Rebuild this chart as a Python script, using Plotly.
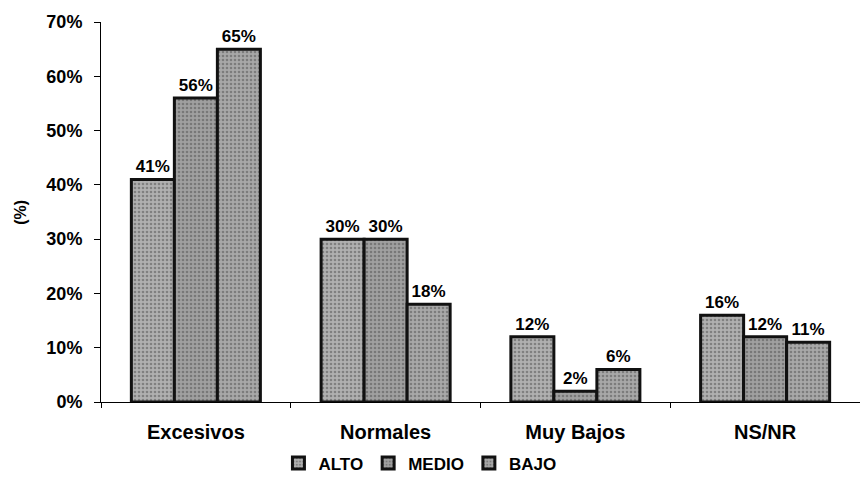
import plotly.graph_objects as go

categories = ["Excesivos", "Normales", "Muy Bajos", "NS/NR"]
alto = [41, 30, 12, 16]
medio = [56, 30, 2, 12]
bajo = [65, 18, 6, 11]
y_ticks = [0, 10, 20, 30, 40, 50, 60, 70]

font = "Liberation Sans, Arial, sans-serif"
series = [("ALTO", alto, "#b0b0b0"), ("MEDIO", medio, "#a0a0a0"), ("BAJO", bajo, "#a8a8a8")]

fig = go.Figure()
for name, vals, col in series:
    fig.add_trace(go.Bar(
        x=categories, y=vals, name=name,
        text=[f"{v}%" for v in vals], textposition="outside",
        texttemplate="%{text}",
        textfont=dict(family=font, size=17, color="black", weight="bold"),
        cliponaxis=False,
        marker=dict(color=col, line=dict(color="#111111", width=3),
                    pattern=dict(shape=".", fgcolor="#505050", bgcolor=col, size=4, solidity=0.35)),
    ))

fig.update_layout(
    width=860, height=469,
    margin=dict(l=93, r=8, t=14, b=75, autoexpand=False),
    paper_bgcolor="white", plot_bgcolor="white",
    barmode="group", bargap=0.32, bargroupgap=0,
    font=dict(family=font, size=15, color="black"),
    showlegend=True,
    legend=dict(orientation="h", xref="container", x=0.479, xanchor="center",
                y=-0.162, yanchor="middle",
                font=dict(family=font, size=17, color="black", weight="bold"),
                itemwidth=30, tracegroupgap=0),
    yaxis=dict(range=[0, 70], tickvals=y_ticks, ticktext=[f"{v}%" for v in y_ticks],
               showgrid=False, zeroline=False, showline=True, linecolor="black", linewidth=1,
               ticks="outside", ticklen=6, tickcolor="black", ticklabelstandoff=8,
               tickfont=dict(family=font, size=18, color="black", weight="bold")),
    xaxis=dict(showline=True, linecolor="black", linewidth=1, ticks="outside", tickson="boundaries",
               ticklen=5, tickcolor="black", showgrid=False, ticklabelstandoff=12,
               tickfont=dict(family=font, size=20, color="black", weight="bold")),
    annotations=[dict(text="(%)", xref="paper", yref="paper", x=-0.107, y=0.5,
                      xanchor="center", yanchor="middle", textangle=-90, showarrow=False,
                      font=dict(family=font, size=16, color="black", weight="bold"))],
)

fig.write_html("out.html")
